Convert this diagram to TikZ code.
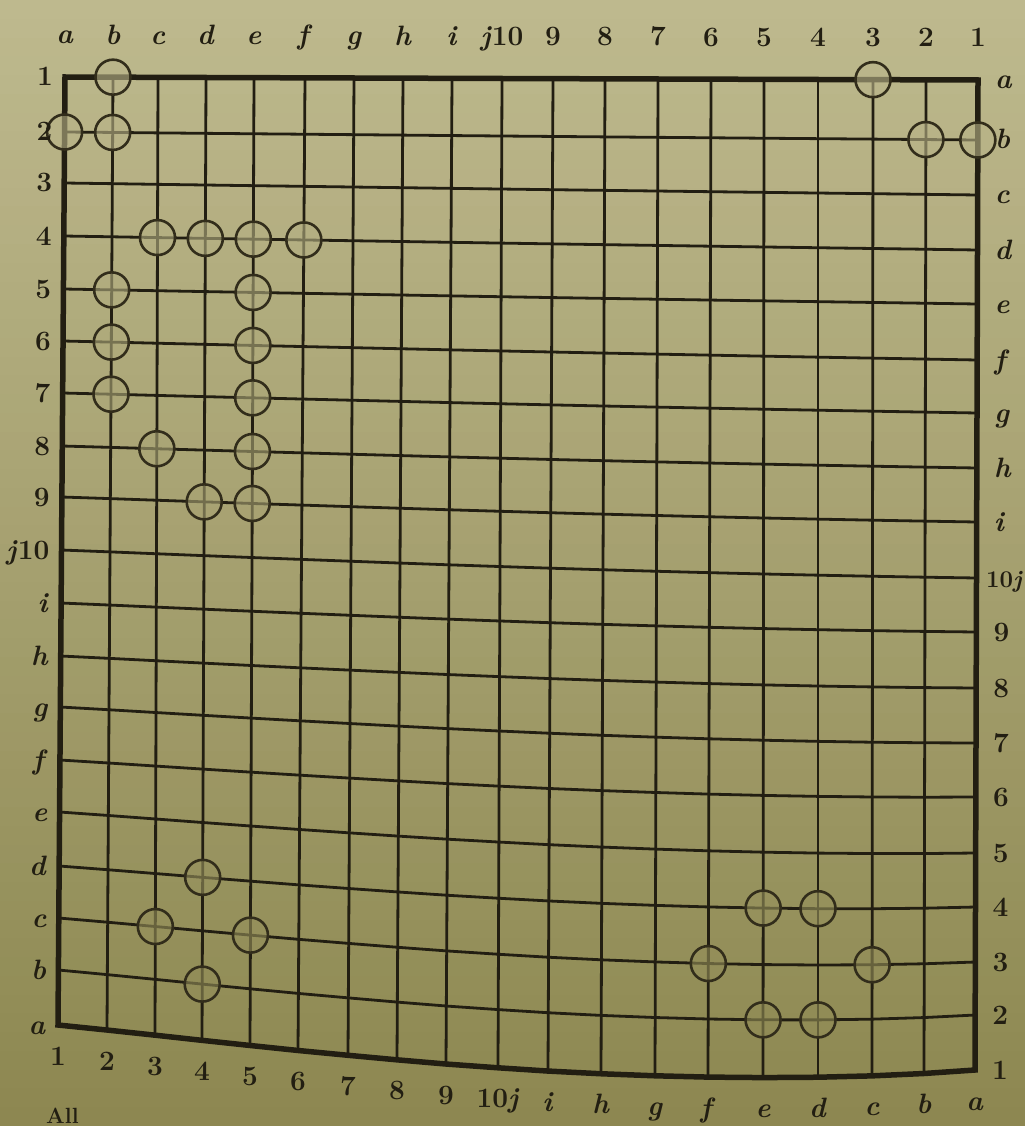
\documentclass[tikz,border=0pt]{standalone}
\usepackage{tikz}
\definecolor{bgtop}{RGB}{190,185,142}
\definecolor{bgbot}{RGB}{140,135,80}
\definecolor{ink}{RGB}{34,30,18}
\definecolor{stoneink}{RGB}{50,45,27}
\def\XT{{65,113,158,206,254,305,354,403,452,502,553,605,658,711,764,818,873,926,978}}
\def\XB{{58,107,155,202,250,298,348,397,446,498,548,601,655,708,763,818,872,924,975}}
\def\YL{{77,132,183,236,289,341,393,446,497,550,603,656,707,760,812,866,918,970,1025}}
\def\YR{{80,140,195,250,304,360,413,468,522,578,632,688,743,797,853,907,962,1015,1070}}
\begin{document}
\begin{tikzpicture}[x=1pt,y=-1pt,
  gridline/.style={draw=ink, line width=2.8pt},
  border/.style={draw=ink, line width=5.5pt, line join=miter},
  stone/.style={circle, draw=stoneink, line width=2.6pt, minimum size=35pt, inner sep=0pt, fill opacity=0.6, draw opacity=1},
  lab/.style={text=ink, font=\fontsize{28}{28}\selectfont\bfseries, inner sep=0pt}]
\useasboundingbox (0,0) rectangle (1025,1126);
\clip (0,0) rectangle (1025,1126);
% paper: vertical gradient in 60 bands
\foreach \k in {0,...,59}{
  \pgfmathtruncatemacro\pk{(\k+0.5)/60*100}
  \fill[bgbot!\pk!bgtop] (0,{\k*18.7667}) rectangle (1025,{(\k+1)*18.7667+0.6});
}
% grid points
\foreach \u in {0,...,18}{
  \foreach \v in {0,...,18}{
    \pgfmathsetmacro\t{\u/18}
    \pgfmathsetmacro\xt{\XT[\u]}
    \pgfmathsetmacro\xb{\XB[\u]}
    \pgfmathsetmacro\yl{\YL[\v]}
    \pgfmathsetmacro\yr{\YR[\v]}
    \pgfmathsetmacro\xx{\xt+(\xb-\xt)*\v/18}
    \pgfmathsetmacro\yy{\yl+(\yr-\yl)*\t+22*(\v/18)^3*(2*\t*(1-\t)+3.375*\t*\t*(1-\t))}
    \expandafter\xdef\csname py@\u @\v\endcsname{\yy}
    \coordinate (p-\u-\v) at (\xx,\yy);
  }
}
% inner lines
\foreach \v in {1,...,17}{
  \draw[gridline] (p-0-\v) \foreach \u in {1,...,18}{ -- (p-\u-\v) };
}
\foreach \u in {1,...,17}{
  \draw[gridline] (p-\u-0) \foreach \v in {1,...,18}{ -- (p-\u-\v) };
}
% border
\draw[border] (p-0-0) \foreach \u in {1,...,18}{ -- (p-\u-0) }
  \foreach \v in {1,...,18}{ -- (p-18-\v) }
  \foreach \u in {17,16,...,0}{ -- (p-\u-18) } -- cycle;
% stones (open circles, filled with the local paper colour)
\foreach \u/\v in {1/0,0/1,1/1,2/3,3/3,4/3,5/3,1/4,4/4,1/5,4/5,1/6,4/6,2/7,4/7,3/8,4/8,
  16/0,17/1,18/1,
  3/15,2/16,4/16,3/17,
  14/15,15/15,13/16,16/16,14/17,15/17}{
  \pgfmathtruncatemacro\kk{\csname py@\u @\v\endcsname/18.7667}
  \pgfmathtruncatemacro\pc{(\kk+0.5)/60*100}
  \node[stone, fill=bgbot!\pc!bgtop] (s-\u-\v) at (p-\u-\v) {};
}
% top labels
\foreach \txt [count=\i from 0] in {\textit{a},\textit{b},\textit{c},\textit{d},\textit{e},\textit{f},\textit{g},\textit{h},\textit{i},\textit{j}10,9,8,7,6,5,4,3,2,1}{
  \path (p-\i-0) ++(0,-33) node[lab, anchor=base] (top-\i) {\txt};
}
% bottom labels
\foreach \txt [count=\i from 0] in {1,2,3,4,5,6,7,8,9,10\textit{j},\textit{i},\textit{h},\textit{g},\textit{f},\textit{e},\textit{d},\textit{c},\textit{b},\textit{a}}{
  \path (p-\i-18) ++(0,40) node[lab, anchor=base] (bot-\i) {\txt};
}
% left labels
\foreach \txt [count=\i from 0] in {1,2,3,4,5,6,7,8,9,\textit{j}10,\textit{i},\textit{h},\textit{g},\textit{f},\textit{e},\textit{d},\textit{c},\textit{b},\textit{a}}{
  \path (p-0-\i) ++(-12,9) node[lab, anchor=base east] (left-\i) {\txt};
}
% right labels
\foreach \txt [count=\i from 0] in {\textit{a},\textit{b},\textit{c},\textit{d},\textit{e},\textit{f},\textit{g},\textit{h},\textit{i}}{
  \path (p-18-\i) ++(17,9) node[lab, anchor=base west] (right-\i) {\txt};
}
\path (p-18-9) ++(0,9) coordinate (r9);
\node[lab, anchor=base east, font=\fontsize{24}{24}\selectfont\bfseries] (right-9) at (r9 -| 1023,0) {10\textit{j}};
\foreach \txt [count=\i from 10] in {9,8,7,6,5,4,3,2,1}{
  \path (p-18-\i) ++(17,9) node[lab, anchor=base west] (right-\i) {\txt};
}
\node[lab, anchor=base west, font=\fontsize{22}{22}\selectfont\bfseries] (alltext) at (46,1123) {All};
\end{tikzpicture}
\end{document}
